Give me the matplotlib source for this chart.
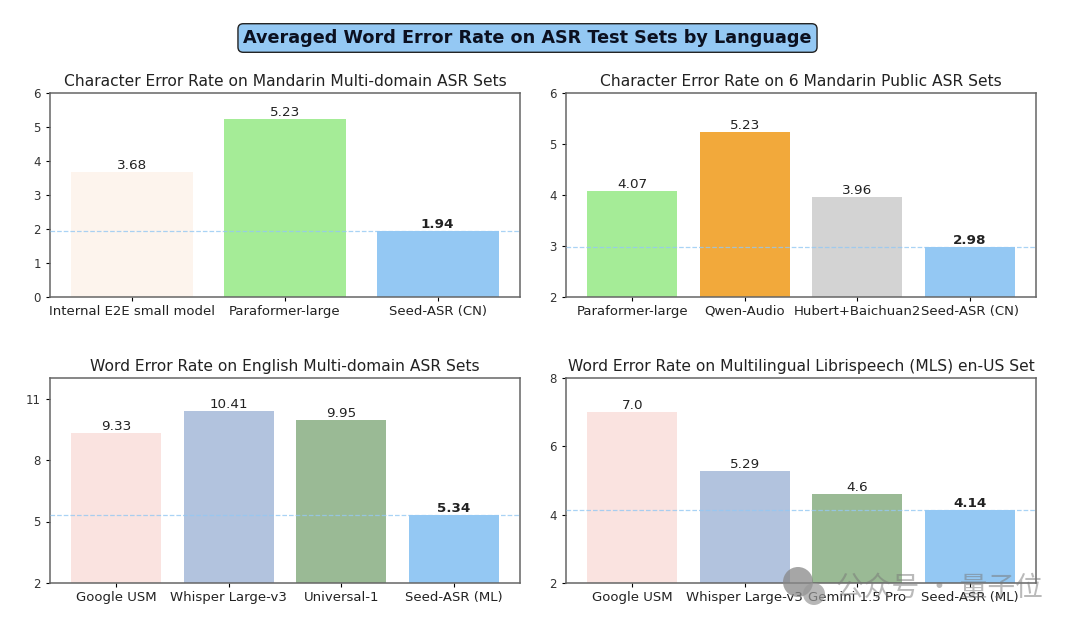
import matplotlib
matplotlib.use('Agg')
import matplotlib.pyplot as plt
from matplotlib.patches import Circle
from matplotlib.transforms import IdentityTransform

plt.rcParams['font.family'] = ['DejaVu Sans', 'Noto Sans CJK SC']

suptitle = 'Averaged Word Error Rate on ASR Test Sets by Language'

titles = [
    'Character Error Rate on Mandarin Multi-domain ASR Sets',
    'Character Error Rate on 6 Mandarin Public ASR Sets',
    'Word Error Rate on English Multi-domain ASR Sets',
    'Word Error Rate on Multilingual Librispeech (MLS) en-US Set',
]

labels_a = ['Internal E2E small model', 'Paraformer-large', 'Seed-ASR (CN)']
values_a = [3.68, 5.23, 1.94]
colors_a = ['#fdf4ed', '#a5ec97', '#94c8f3']
ticks_a = [0, 1, 2, 3, 4, 5, 6]

labels_b = ['Paraformer-large', 'Qwen-Audio', 'Hubert+Baichuan2', 'Seed-ASR (CN)']
values_b = [4.07, 5.23, 3.96, 2.98]
colors_b = ['#a5ec97', '#f2a93b', '#d3d3d3', '#94c8f3']
ticks_b = [2, 3, 4, 5, 6]

labels_c = ['Google USM', 'Whisper Large-v3', 'Universal-1', 'Seed-ASR (ML)']
values_c = [9.33, 10.41, 9.95, 5.34]
colors_c = ['#fae3e0', '#b2c3de', '#9aba95', '#94c8f3']
ticks_c = [2, 5, 8, 11]
ylim_c = (2, 12)

labels_d = ['Google USM', 'Whisper Large-v3', 'Gemini 1.5 Pro', 'Seed-ASR (ML)']
values_d = [7.0, 5.29, 4.6, 4.14]
colors_d = ['#fae3e0', '#b2c3de', '#9aba95', '#94c8f3']
ticks_d = [2, 4, 6, 8]

W, H = 1080, 632


def make_axes(fig, left, top, right, bottom):
    return fig.add_axes([left / W, 1 - bottom / H, (right - left) / W, (bottom - top) / H])


def draw_panel(ax, title, labels, values, colors, ticks, ylim=None):
    x = range(len(labels))
    ax.bar(x, values, color=colors, width=0.8)
    ax.axhline(values[-1], color='#94c8f3', linestyle='--', linewidth=0.9, alpha=0.8, zorder=3)
    ax.set_xticks(list(x))
    ax.set_xticklabels(labels, fontsize=9.5, color='#222222')
    ax.set_yticks(ticks)
    ax.set_ylim(ylim if ylim else (ticks[0], ticks[-1]))
    ax.tick_params(axis='x', pad=2.5, length=3)
    ax.tick_params(axis='y', labelsize=8.5, labelcolor='#333333', length=3)
    ax.set_title(title, fontsize=11.15, pad=5, color='#222222')
    for spine in ax.spines.values():
        spine.set_color('#666666')
        spine.set_linewidth(1.1)
    for i, v in enumerate(values):
        bold = i == len(values) - 1
        ax.text(i, v, str(v), ha='center', va='bottom', fontsize=9.7,
                fontweight='bold' if bold else 'normal', color='#222222')


fig = plt.figure(figsize=(10.8, 6.32), dpi=100)

ax_a = make_axes(fig, 50, 93, 520, 297)
ax_b = make_axes(fig, 566, 93, 1036, 297)
ax_c = make_axes(fig, 50, 378, 520, 583)
ax_d = make_axes(fig, 566, 378, 1036, 583)

draw_panel(ax_a, titles[0], labels_a, values_a, colors_a, ticks_a)
draw_panel(ax_b, titles[1], labels_b, values_b, colors_b, ticks_b)
draw_panel(ax_c, titles[2], labels_c, values_c, colors_c, ticks_c, ylim_c)
draw_panel(ax_d, titles[3], labels_d, values_d, colors_d, ticks_d)

fig.text(527.5 / W, 1 - 38 / H, suptitle, ha='center', va='center', fontsize=12.7,
         fontweight='bold', color='#0b1020',
         bbox=dict(boxstyle='round,pad=0.3', facecolor='#94c8f3', edgecolor='#222222', linewidth=1))

# watermark
fig.add_artist(Circle((798, H - 582), 15, transform=IdentityTransform(), facecolor='#888888',
                      edgecolor='none', alpha=0.75))
fig.add_artist(Circle((814, H - 594), 11, transform=IdentityTransform(), facecolor='#999999',
                      edgecolor='none', alpha=0.7))
fig.text(939 / W, 1 - 588 / H, '公众号 · 量子位', fontsize=20, color='#777777', alpha=0.5,
         ha='center', va='center', family=['Noto Sans CJK SC', 'DejaVu Sans'])

fig.savefig('out.png', dpi=100)
